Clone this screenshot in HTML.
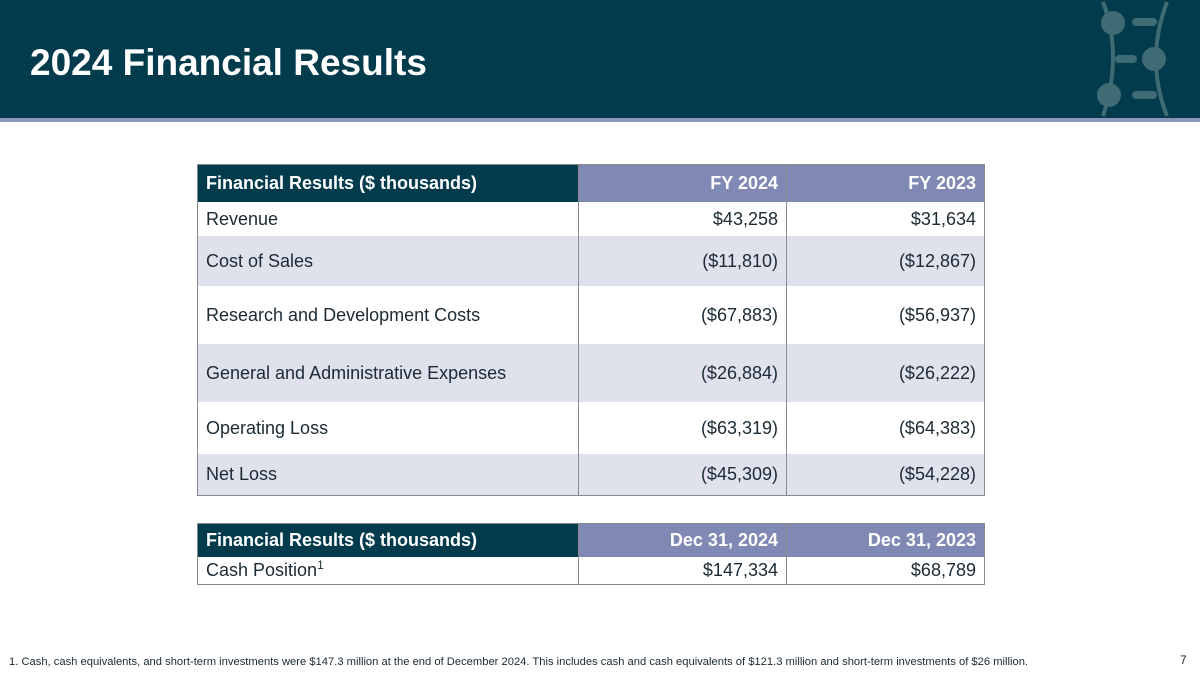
<!DOCTYPE html>
<html><head><meta charset="utf-8"><style>
*{margin:0;padding:0;box-sizing:border-box}
body{width:1200px;height:675px;position:relative;background:#fff;font-family:"Liberation Sans",Arial,sans-serif;overflow:hidden}
.hdr{position:absolute;left:0;top:0;width:1200px;height:118px;background:#023b4b}
.stripe{position:absolute;left:0;top:118px;width:1200px;height:4px;background:#8c96bd}
h1{position:absolute;left:30px;top:42px;color:#fff;font-size:37px;font-weight:bold}
.t{position:absolute;left:197px;width:788px;border:1px solid #8a8a8a}
.r{position:absolute;left:0;width:786px;display:flex}
.c{height:100%;display:flex;align-items:center;font-size:18px;color:#1b2a33}
.c1{width:381px;padding-left:8px;border-right:1px solid #8a8a8a}
.c2{width:208px;justify-content:flex-end;padding-right:8px;border-right:1px solid #8a8a8a}
.c3{width:197px;justify-content:flex-end;padding-right:8px}
.h .c{font-weight:bold;color:#fff;background:#7f89b3}
.h .c1{background:#023b4b}
.alt{background:#dfe1ec}
.foot{position:absolute;left:9px;top:656px;font-size:11.2px;color:#1b2a33}
.pg{position:absolute;left:1180px;top:653px;font-size:12px;color:#1b2a33}
</style></head><body>
<div class="hdr"></div>
<div class="stripe"></div>
<h1>2024 Financial Results</h1>
<svg style="position:absolute;left:1095px;top:0" width="80" height="118" viewBox="0 0 80 118">
<g fill="#3f6b74" stroke="#3f6b74">
<path d="M8 2 Q28 55 8 116" fill="none" stroke-width="4"/>
<path d="M72 2 Q50 60 72 116" fill="none" stroke-width="4"/>
<circle cx="18" cy="23" r="12" stroke="none"/>
<circle cx="14" cy="95" r="12" stroke="none"/>
<circle cx="59" cy="59" r="12" stroke="none"/>
<rect x="20" y="55" width="22" height="8" rx="4" stroke="none"/>
<rect x="37" y="18" width="25" height="8" rx="4" stroke="none"/>
<rect x="37" y="91" width="25" height="8" rx="4" stroke="none"/>
</g></svg>
<div class="t" style="top:164px;height:332px">
<div class="r h" style="top:0;height:37px"><div class="c c1">Financial Results ($ thousands)</div><div class="c c2">FY 2024</div><div class="c c3">FY 2023</div></div>
<div class="r" style="top:37px;height:34px"><div class="c c1">Revenue</div><div class="c c2">$43,258</div><div class="c c3">$31,634</div></div>
<div class="r alt" style="top:71px;height:50px"><div class="c c1">Cost of Sales</div><div class="c c2">($11,810)</div><div class="c c3">($12,867)</div></div>
<div class="r" style="top:121px;height:58px"><div class="c c1">Research and Development Costs</div><div class="c c2">($67,883)</div><div class="c c3">($56,937)</div></div>
<div class="r alt" style="top:179px;height:58px"><div class="c c1">General and Administrative Expenses</div><div class="c c2">($26,884)</div><div class="c c3">($26,222)</div></div>
<div class="r" style="top:237px;height:52px"><div class="c c1">Operating Loss</div><div class="c c2">($63,319)</div><div class="c c3">($64,383)</div></div>
<div class="r alt" style="top:289px;height:41px"><div class="c c1">Net Loss</div><div class="c c2">($45,309)</div><div class="c c3">($54,228)</div></div>
</div>
<div class="t" style="top:523px;height:62px">
<div class="r h" style="top:0;height:33px"><div class="c c1">Financial Results ($ thousands)</div><div class="c c2">Dec 31, 2024</div><div class="c c3">Dec 31, 2023</div></div>
<div class="r" style="top:33px;height:27px"><div class="c c1">Cash Position<span style="font-size:12px;position:relative;top:-6px">1</span></div><div class="c c2">$147,334</div><div class="c c3">$68,789</div></div>
</div>
<div class="foot">1. Cash, cash equivalents, and short-term investments were $147.3 million at the end of December 2024. This includes cash and cash equivalents of $121.3 million and short-term investments of $26 million.</div>
<div class="pg">7</div>
</body></html>
